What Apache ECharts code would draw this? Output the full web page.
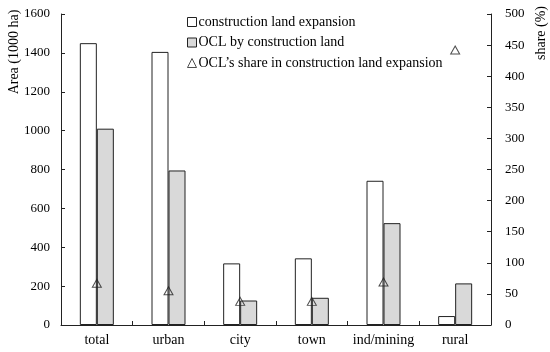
<!DOCTYPE html>
<html><head><meta charset="utf-8">
<script src="https://cdn.jsdelivr.net/npm/echarts@6/dist/echarts.min.js"></script>
<style>html,body{margin:0;padding:0;background:#fff}#c{width:550px;height:352px}</style>
</head><body><div id="c"></div>
<script>
var categories = ['total','urban','city','town','ind/mining','rural'];
var expansion = [1450, 1405, 317, 343, 742, 46];
var oclArea = [1010, 795, 126, 140, 524, 214];
var oclShare = [67, 55, 38, 38, 69, 442];
var leftTicks = [0,200,400,600,800,1000,1200,1400,1600];
var rightTicks = [0,50,100,150,200,250,300,350,400,450,500];
var names = ['construction land expansion','OCL by construction land','OCL\u2019s share in construction land expansion'];

var font = 'Liberation Serif';
var ink = '#222';
var chart = echarts.init(document.getElementById('c'), null, {renderer:'canvas'});
chart.setOption({
  animation:false,
  backgroundColor:'#fff',
  textStyle:{fontFamily:font,color:'#000'},
  grid:{left:61,right:59,top:14,bottom:27},
  legend:{
    orient:'vertical', left:182, top:10, itemWidth:9, itemHeight:9, itemGap:6.5,
    textStyle:{fontFamily:font,fontSize:14,color:'#000',padding:[0,0,0,-3]},
    data:[
      {name:names[0],icon:'rect',itemStyle:{color:'#fff',borderColor:ink,borderWidth:1}},
      {name:names[1],icon:'rect',itemStyle:{color:'#d9d9d9',borderColor:ink,borderWidth:1}},
      {name:names[2],icon:'triangle',itemStyle:{color:'rgba(0,0,0,0)',borderColor:ink,borderWidth:1}}
    ]
  },
  xAxis:{
    type:'category', data:categories, boundaryGap:true,
    axisLine:{lineStyle:{color:ink,width:1}},
    axisTick:{show:true,inside:true,length:4,interval:0,alignWithLabel:false,lineStyle:{color:ink}},
    axisLabel:{fontFamily:font,fontSize:14,color:'#000',margin:8,interval:0}
  },
  yAxis:[
    {type:'value',min:leftTicks[0],max:leftTicks[leftTicks.length-1],interval:200,
     axisLine:{show:true,lineStyle:{color:ink}},
     axisTick:{show:true,inside:true,length:4,lineStyle:{color:ink}},
     splitLine:{show:false},
     axisLabel:{fontFamily:font,fontSize:13,color:'#000',margin:11,formatter:function(v){return String(v);}}},
    {type:'value',min:rightTicks[0],max:rightTicks[rightTicks.length-1],interval:50,
     axisLine:{show:true,lineStyle:{color:ink}},
     axisTick:{show:true,inside:true,length:4,lineStyle:{color:ink}},
     splitLine:{show:false},
     axisLabel:{fontFamily:font,fontSize:13,color:'#000',margin:14,formatter:function(v){return String(v);}}}
  ],
  graphic:[
    {type:'text',x:14,y:52,rotation:Math.PI/2,
     style:{text:'Area (1000 ha)',font:'14px "Liberation Serif"',fill:'#000',align:'center',verticalAlign:'middle'}},
    {type:'text',x:541,y:33,rotation:Math.PI/2,
     style:{text:'share (%)',font:'14px "Liberation Serif"',fill:'#000',align:'center',verticalAlign:'middle'}}
  ],
  series:[
    {name:names[0],type:'bar',data:expansion,barWidth:17,barGap:'0%',
     itemStyle:{color:'#fff',borderColor:ink,borderWidth:1}},
    {name:names[1],type:'bar',data:oclArea,barWidth:17,barGap:'0%',
     itemStyle:{color:'#d9d9d9',borderColor:ink,borderWidth:1}},
    {name:names[2],type:'scatter',yAxisIndex:1,data:oclShare,symbol:'triangle',symbolSize:[9,8],
     itemStyle:{color:'rgba(0,0,0,0)',borderColor:ink,borderWidth:1},z:5}
  ]
});
</script></body></html>
